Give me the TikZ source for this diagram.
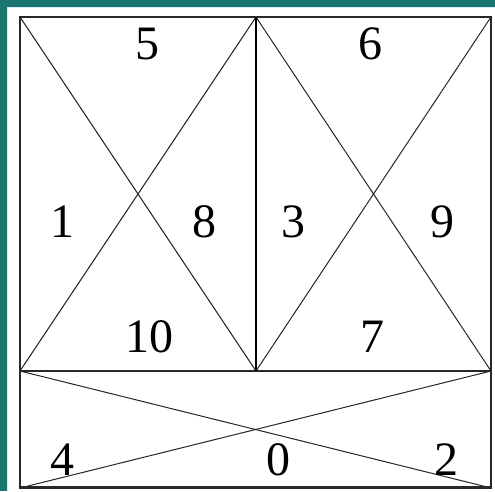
\documentclass[tikz,border=0pt]{standalone}
\usepackage{fontspec}
\setmainfont{Liberation Serif}
\definecolor{tealbg}{RGB}{28,118,112}
\definecolor{lightline}{RGB}{200,240,240}
\definecolor{framecol}{RGB}{40,40,40}
\begin{document}
\begin{tikzpicture}[x=1pt,y=-1pt,
  frameline/.style={draw=framecol,line width=1.6pt},
  diag/.style={draw=black!85,line width=1pt},
  midline/.style={draw=black,line width=2.2pt},
  num/.style={font=\fontsize{48}{48}\selectfont,inner sep=0pt}]
\useasboundingbox (0,0) rectangle (495,491);
\fill[tealbg] (0,0) rectangle (495,491);
\fill[white] (7,7) rectangle (495,491);
\draw[lightline,line width=1pt] (7.5,491) -- (7.5,7.5) -- (495,7.5);
% corners
\coordinate (TL) at (20,17);
\coordinate (TM) at (256,17);
\coordinate (TR) at (491,17);
\coordinate (ML) at (20,371);
\coordinate (MM) at (256,371);
\coordinate (MR) at (491,371);
\coordinate (BL) at (20,488);
\coordinate (BR) at (491,488);
% diagonals
\draw[diag] (TL) -- (MM);
\draw[diag] (TM) -- (ML);
\draw[diag] (TM) -- (MR);
\draw[diag] (TR) -- (MM);
\draw[diag] (ML) -- (BR);
\draw[diag] (BL) -- (MR);
% frame
\draw[frameline] (TL) -- (TR) -- (BR) -- (BL) -- cycle;
\draw[frameline] (ML) -- (MR);
\draw[draw=framecol,line width=3pt] ([yshift=1pt]BL) -- ([yshift=1pt]BR);
\draw[midline] (TM) -- (MM);
% labels
\node[num] (n5) at (147,44) {5};
\node[num] (n6) at (370,44) {6};
\node[num] (n1) at (62,222) {1};
\node[num] (n8) at (204,222) {8};
\node[num] (n3) at (293,222) {3};
\node[num] (n9) at (442,222) {9};
\node[num] (n10) at (149,337) {10};
\node[num] (n7) at (372,337) {7};
\node[num] (n4) at (62,460) {4};
\node[num] (n0) at (278,460) {0};
\node[num] (n2) at (446,460) {2};
\end{tikzpicture}
\end{document}
